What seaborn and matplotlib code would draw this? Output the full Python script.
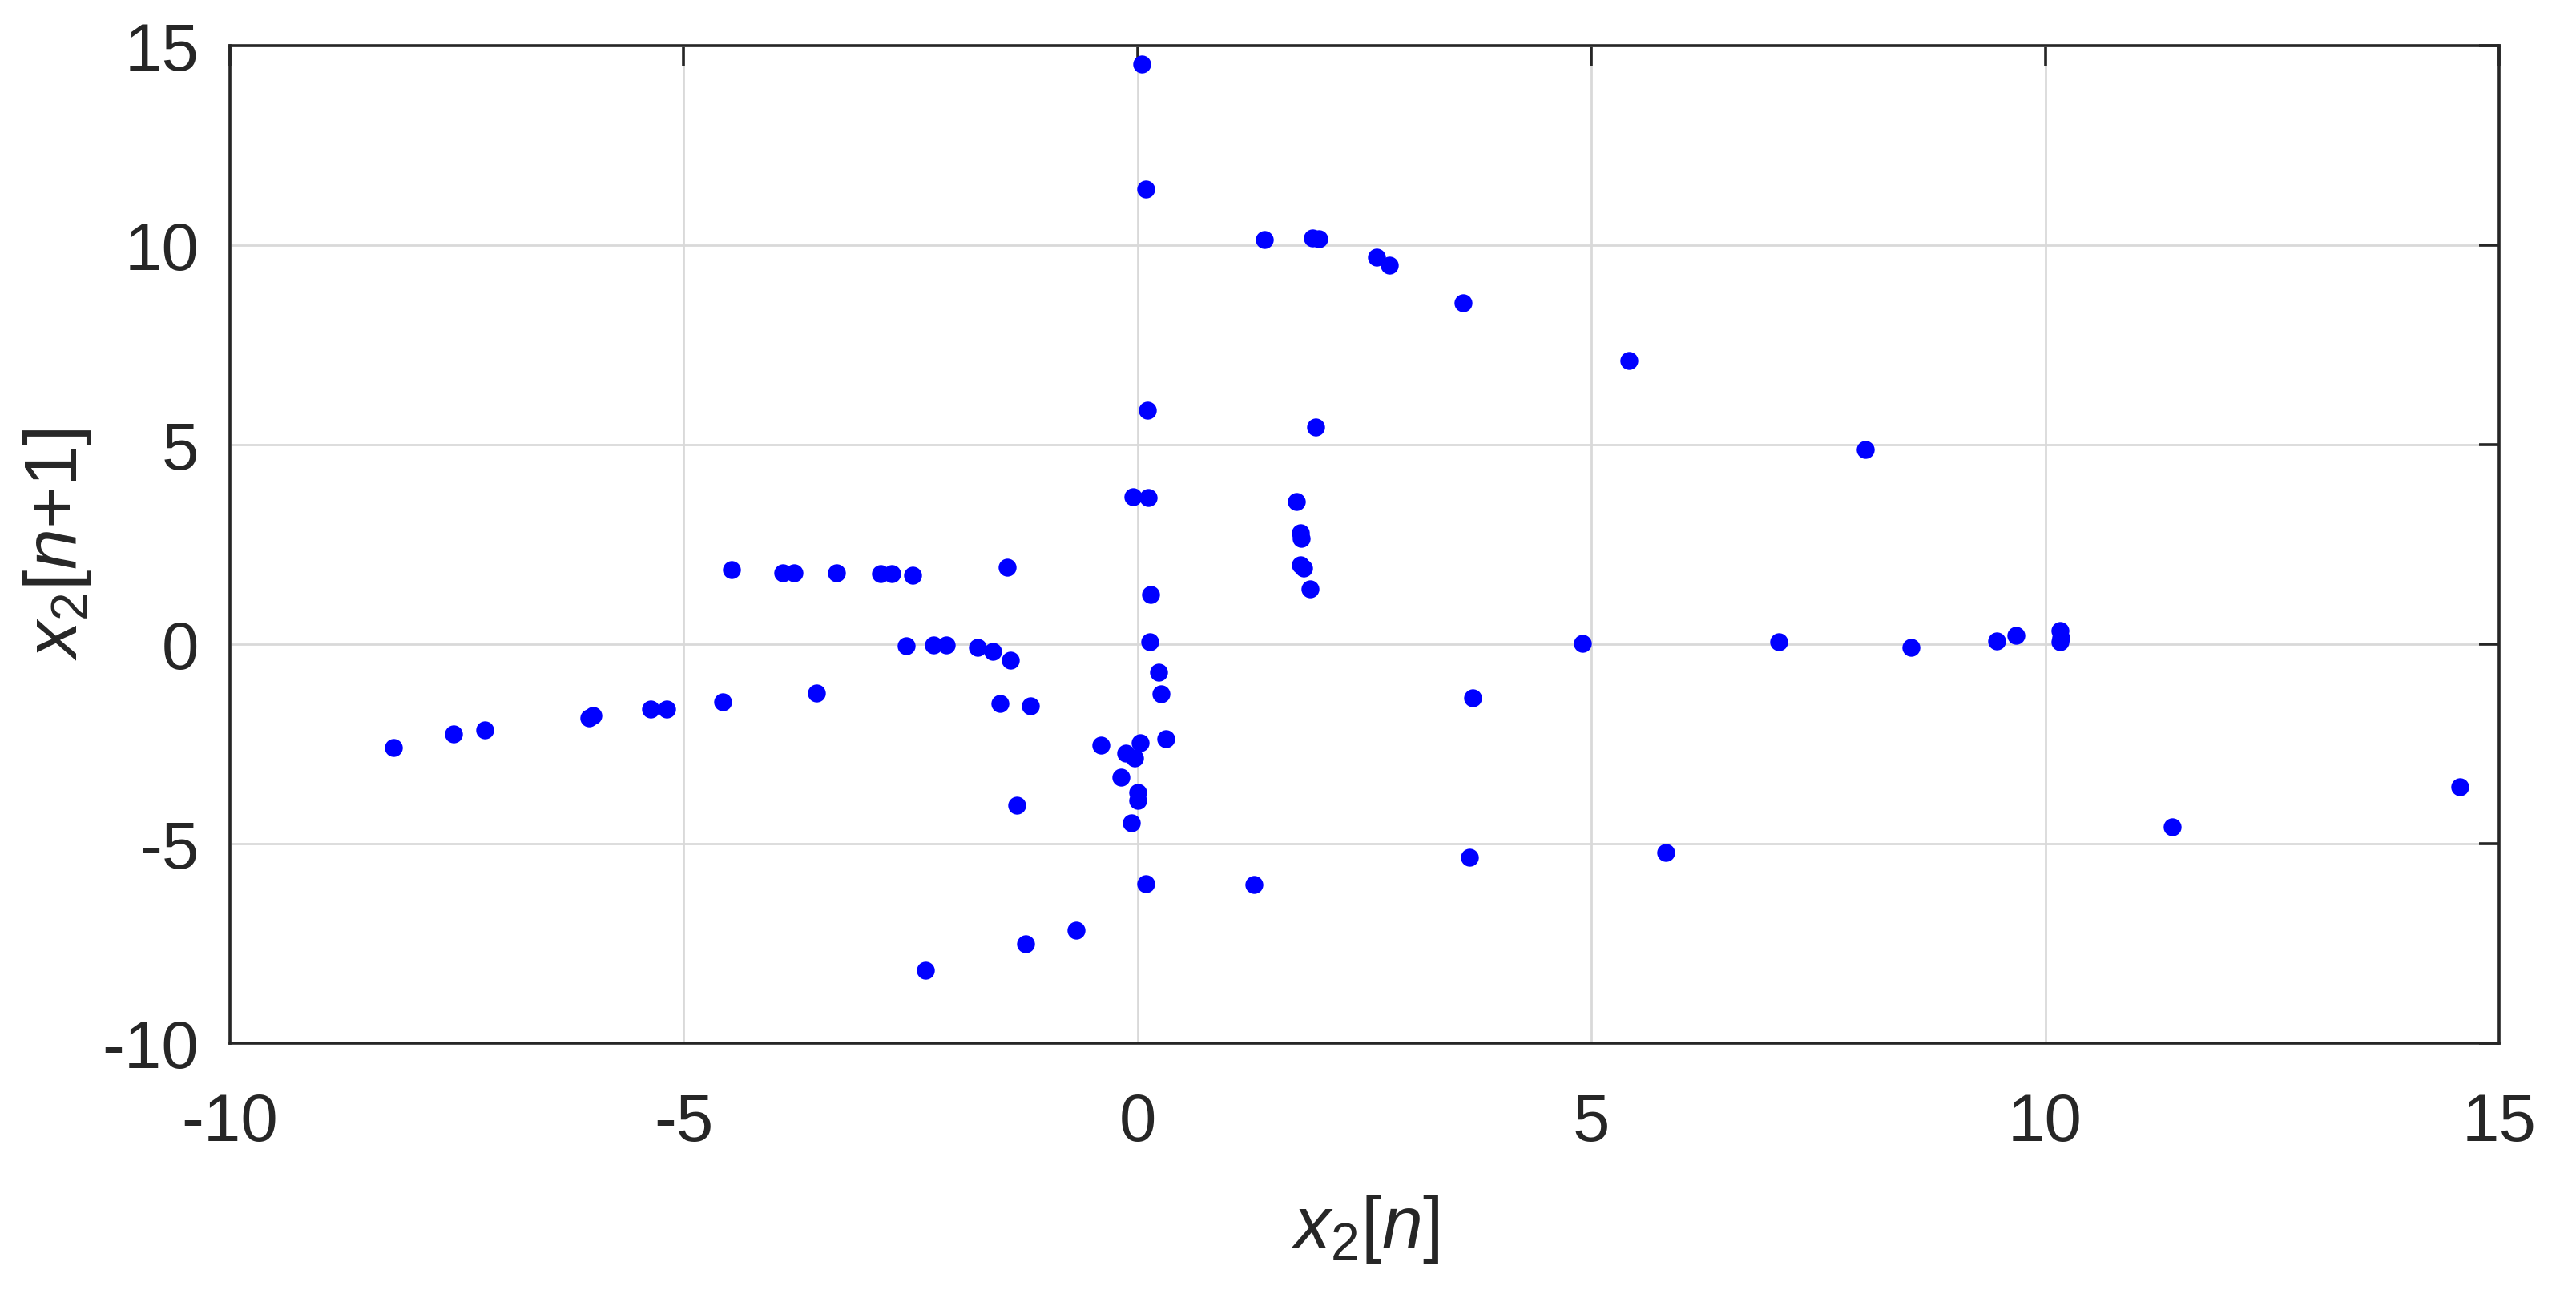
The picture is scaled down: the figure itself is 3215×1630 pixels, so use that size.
import numpy as np
import pandas as pd
import seaborn as sns
import matplotlib.pyplot as plt

# return map values
x_n = [0.05, 0.09, 1.40, 1.93, 2.00, 2.63, 2.77, 3.59, 5.41, 0.11,
       1.96, -0.05, 0.12, 1.75, 1.79, 1.80, 1.79, 1.83, 1.90, -1.44,
       -4.47, -3.91, -3.79, -3.32, -2.83, -2.71, -2.48, 0.14, 0.13, -2.55,
       -2.25, -2.11, -1.76, -1.60, -1.40, 0.23, 0.26, -3.54, -1.52, -1.18,
       -4.57, -5.37, -5.19, -6.00, -6.05, -7.19, -7.54, -8.20, -0.40, 0.03,
       -0.13, -0.03, 0.31, -0.18, 0.00, 0.00, -1.33, -0.07, 0.09, 1.28,
       -0.68, -1.23, -2.34, 3.69, 3.66, 4.90, 5.82, 7.06, 8.02, 8.52,
       9.47, 9.68, 10.16, 10.17, 10.16, 11.40, 14.57]
x_n1 = [14.53, 11.40, 10.14, 10.18, 10.16, 9.69, 9.49, 8.55, 7.10, 5.86,
        5.44, 3.70, 3.68, 3.58, 2.80, 2.65, 1.98, 1.90, 1.38, 1.93,
        1.87, 1.78, 1.78, 1.78, 1.76, 1.76, 1.72, 1.24, 0.06, -0.03,
        -0.01, -0.01, -0.08, -0.17, -0.41, -0.71, -1.25, -1.23, -1.49, -1.54,
        -1.45, -1.63, -1.63, -1.78, -1.84, -2.15, -2.25, -2.58, -2.53, -2.47,
        -2.72, -2.85, -2.37, -3.34, -3.72, -3.91, -4.03, -4.48, -6.00, -6.02,
        -7.16, -7.51, -8.18, -1.35, -5.35, 0.02, -5.21, 0.06, 4.89, -0.08,
        0.08, 0.23, 0.34, 0.17, 0.06, -4.58, -3.57]
ticks = [-10, -5, 0, 5, 10, 15]

df = pd.DataFrame({'xn': x_n, 'xn1': x_n1})

sns.set_style('white')
plt.rcParams['font.family'] = ['Liberation Sans', 'DejaVu Sans']
plt.rcParams['mathtext.fontset'] = 'custom'
plt.rcParams['mathtext.it'] = 'Liberation Sans:italic'
plt.rcParams['mathtext.rm'] = 'Liberation Sans'
plt.rcParams['axes.unicode_minus'] = False

fig = plt.figure(figsize=(16.075, 8.15), dpi=200)
ax = fig.add_axes([0.0893, 0.2012, 0.8808, 0.7638])

sns.scatterplot(data=df, x='xn', y='xn1', ax=ax, color='#0000FF',
                s=65, linewidth=0, zorder=3)

ax.set_xlim(-10, 15)
ax.set_ylim(-10, 15)
ax.set_xticks(ticks)
ax.set_yticks(ticks)
ax.grid(True, color='#D9D9D9', linewidth=1.0)
ax.set_axisbelow(True)
for sp in ax.spines.values():
    sp.set_visible(True)
    sp.set_color('#262626')
    sp.set_linewidth(1.3)
ax.tick_params(direction='in', length=9, width=1.3, colors='#262626',
               labelsize=30, top=True, right=True, pad=14)
ax.tick_params(axis='x', pad=22)

ax.set_xlabel(r'$\mathit{x_2[n]}$', fontsize=33, color='#262626')
ax.set_ylabel(r'$\mathit{x_2[n{+}1]}$', fontsize=33, color='#262626')
ax.xaxis.set_label_coords(0.5, -0.15)
ax.yaxis.set_label_coords(-0.06, 0.5)

fig.savefig('out.png', dpi=200)
